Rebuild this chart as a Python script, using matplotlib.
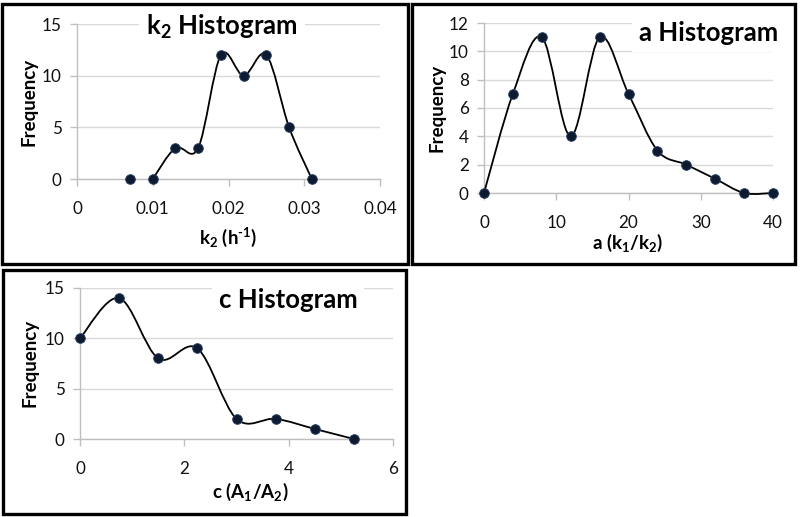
import numpy as np
import matplotlib
matplotlib.use("Agg")
import matplotlib.pyplot as plt
from matplotlib.path import Path
from matplotlib.patches import PathPatch, Rectangle

plt.rcParams['font.family'] = ['Lato', 'DejaVu Sans']
plt.rcParams['mathtext.fontset'] = 'custom'
plt.rcParams['mathtext.rm'] = 'Lato:bold'
plt.rcParams['mathtext.it'] = 'Lato:bold'
plt.rcParams['mathtext.bf'] = 'Lato:bold'

# ---- data ----
k2_x = [0.007, 0.010, 0.013, 0.016, 0.019, 0.022, 0.025, 0.028, 0.031]
k2_freq = [0, 0, 3, 3, 12, 10, 12, 5, 0]
k2_xticks = [0, 0.01, 0.02, 0.03, 0.04]
k2_yticks = [0, 5, 10, 15]

a_x = [0, 4, 8, 12, 16, 20, 24, 28, 32, 36, 40]
a_freq = [0, 7, 11, 4, 11, 7, 3, 2, 1, 0, 0]
a_xticks = [0, 10, 20, 30, 40]
a_yticks = [0, 2, 4, 6, 8, 10, 12]

c_x = [0, 0.75, 1.5, 2.25, 3.0, 3.75, 4.5, 5.25]
c_freq = [10, 14, 8, 9, 2, 2, 1, 0]
c_xticks = [0, 2, 4, 6]
c_yticks = [0, 5, 10, 15]

W, H = 800, 517
fig = plt.figure(figsize=(W / 100, H / 100), dpi=100)

GRID = '#d9d9d9'
AX = '#bfbfbf'
MK = '#0e1a30'


def rect(x0, y0, x1, y1):
    # pixel coords (y from top) -> figure fraction rect
    return [x0 / W, 1 - y1 / H, (x1 - x0) / W, (y1 - y0) / H]


def smooth_path(xs, ys):
    P = np.column_stack([xs, ys]).astype(float)
    n = len(P)
    verts = [P[0]]
    codes = [Path.MOVETO]
    for i in range(n - 1):
        pm = P[i - 1] if i > 0 else P[i]
        p2 = P[i + 2] if i + 2 < n else P[i + 1]
        c1 = P[i] + (P[i + 1] - pm) / 6.0
        c2 = P[i + 1] - (p2 - P[i]) / 6.0
        verts += [c1, c2, P[i + 1]]
        codes += [Path.CURVE4] * 3
    return Path(verts, codes)


def make_axes(px, xs, ys, line_start, xticks, yticks, xfmt):
    ax = fig.add_axes(rect(*px))
    ax.set_xlim(xticks[0], xticks[-1])
    ax.set_ylim(yticks[0], yticks[-1])
    ax.set_xticks(xticks)
    ax.set_yticks(yticks)
    ax.set_xticklabels([xfmt(v) for v in xticks])
    ax.set_yticklabels([str(v) for v in yticks])
    for s in ['top', 'right']:
        ax.spines[s].set_visible(False)
    for s in ['left', 'bottom']:
        ax.spines[s].set_color(AX)
        ax.spines[s].set_linewidth(1.0)
    ax.tick_params(axis='both', colors=AX, labelcolor='#111111', labelsize=12.3,
                   length=5, width=1.0, direction='out')
    ax.tick_params(axis='x', pad=11)
    ax.tick_params(axis='y', pad=6)
    ax.yaxis.grid(True, color=GRID, lw=1.0)
    ax.set_axisbelow(True)
    path = smooth_path(xs[line_start:], ys[line_start:])
    ax.add_patch(PathPatch(path, facecolor='none', edgecolor='black', lw=1.3,
                           zorder=3, clip_on=False))
    ax.plot(xs, ys, ls='none', marker='o', ms=7, color=MK,
            markeredgecolor='#2c4468', markeredgewidth=0.6, zorder=4, clip_on=False)
    return ax


def fig_text(x, y, s, **kw):
    fig.text(x / W, 1 - y / H, s, **kw)


LBL = 13.5
TTL = 18.5

# ---- panel 1: k2 ----
ax1 = make_axes((77, 24, 380, 179), k2_x, k2_freq, 1, k2_xticks, k2_yticks,
                lambda v: '0' if v == 0 else f'{v:g}')
fig_text(29, 102, 'Frequency', rotation=90, ha='center', va='center',
         fontsize=LBL, fontweight='bold')
fig_text(228, 237, r'$\mathbf{k_2}$ $\mathbf{(h^{\text{-}1})}$', ha='center', va='center',
         fontsize=LBL, fontweight='bold')
fig_text(222, 27, r'$\mathbf{k_2}$ Histogram', ha='center', va='center',
         fontsize=TTL, fontweight='bold',
         bbox=dict(facecolor='white', edgecolor='none', pad=5))

# ---- panel 2: a ----
ax2 = make_axes((484, 23, 773, 193), a_x, a_freq, 0, a_xticks, a_yticks,
                lambda v: f'{v:g}')
fig_text(437, 108, 'Frequency', rotation=90, ha='center', va='center',
         fontsize=LBL, fontweight='bold')
fig_text(628, 243, r'a $\mathbf{(k_1/k_2)}$', ha='center', va='center',
         fontsize=LBL, fontweight='bold')
fig_text(709, 33, 'a Histogram', ha='center', va='center',
         fontsize=TTL, fontweight='bold',
         bbox=dict(facecolor='white', edgecolor='none', pad=5))

# ---- panel 3: c ----
ax3 = make_axes((80, 288, 393, 439), c_x, c_freq, 0, c_xticks, c_yticks,
                lambda v: f'{v:g}')
fig_text(30, 363, 'Frequency', rotation=90, ha='center', va='center',
         fontsize=LBL, fontweight='bold')
fig_text(250, 492, r'c $\mathbf{(A_1/A_2)}$', ha='center', va='center',
         fontsize=LBL, fontweight='bold')
fig_text(288, 300, 'c Histogram', ha='center', va='center',
         fontsize=TTL, fontweight='bold',
         bbox=dict(facecolor='white', edgecolor='none', pad=5))

# ---- panel borders ----
for (x0, y0, x1, y1) in [(2, 3.5, 407.5, 264), (412, 4, 794.5, 264), (2.5, 269.5, 406, 514)]:
    r = rect(x0, y0, x1, y1)
    fig.add_artist(Rectangle((r[0], r[1]), r[2], r[3], transform=fig.transFigure,
                             fill=False, edgecolor='black', lw=2.4, zorder=10))

fig.savefig('out.png', dpi=100)
